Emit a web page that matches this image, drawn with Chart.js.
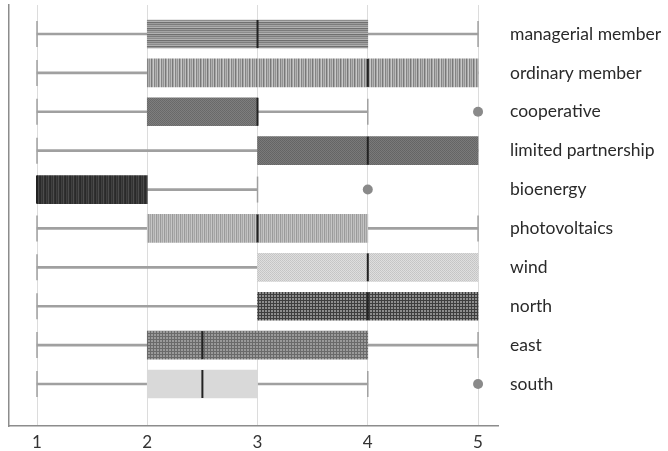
<!DOCTYPE html>
<html>
<head>
<meta charset="utf-8">
<script src="https://cdn.jsdelivr.net/npm/chart.js@4"></script>
<style>
  html, body { margin: 0; padding: 0; background: #fff; }
  #wrap { width: 668px; height: 451px; }
</style>
</head>
<body>
<div id="wrap"><canvas id="chart"></canvas></div>
<script>
// rows, top to bottom
var categories = ['managerial member', 'ordinary member', 'cooperative', 'limited partnership',
    'bioenergy', 'photovoltaics', 'wind', 'north', 'east', 'south'];
var whiskerLow  = [1, 1, 1, 1, 1, 1, 1, 1, 1,   1];
var q1          = [2, 2, 2, 3, 1, 2, 3, 3, 2,   2];
var median      = [3, 4, 3, 4, 1, 3, 4, 4, 2.5, 2.5];
var q3          = [4, 5, 3, 5, 2, 4, 5, 5, 4,   3];
var whiskerHigh = [5, 5, 4, 5, 3, 5, 5, 5, 5,   4];
var outlierRows   = [2, 4, 9];
var outlierValues = [5, 4, 5];
var xTicks = [1, 2, 3, 4, 5];

// little tiles so the boxes get a texture like the original
function makePattern(w, h, colors) {
    var c = document.createElement('canvas');
    c.width = w; c.height = h;
    var g = c.getContext('2d');
    for (var y = 0; y < h; y++) {
        for (var x = 0; x < w; x++) {
            g.fillStyle = colors[(y * w + x) % colors.length];
            g.fillRect(x, y, 1, 1);
        }
    }
    return g.createPattern(c, 'repeat');
}
function vStripes(cols) { return makePattern(cols.length, 1, cols); }
function hStripes(cols) { return makePattern(1, cols.length, cols); }
function grid(line, fill) {
    return makePattern(3, 3, [line, line, line, line, fill, fill, line, fill, fill]);
}

var boxFills = [
    hStripes(['#7c7c7c', '#a4a4a4', '#8c8c8c', '#b2b2b2', '#6f6f6f', '#9c9c9c']),
    vStripes(['#848484', '#b0b0b0', '#949494', '#bcbcbc', '#787878', '#a4a4a4', '#c8c8c8']),
    makePattern(2, 2, ['#686868', '#7e7e7e', '#7e7e7e', '#6a6a6a']),
    makePattern(2, 2, ['#646464', '#7a7a7a', '#7a7a7a', '#666666']),
    vStripes(['#2a2a2a', '#404040', '#333333', '#4c4c4c', '#303030']),
    vStripes(['#9a9a9a', '#bdbdbd', '#a6a6a6', '#c6c6c6']),
    makePattern(2, 2, ['#c4c4c4', '#dedede', '#dedede', '#c8c8c8']),
    grid('#3e3e3e', '#8e8e8e'),
    grid('#6a6a6a', '#9a9a9a'),
    '#d9d9d9'
];

var boxData = [], whiskerData = [], capData = [], medianData = [], outlierData = [];
for (var i = 0; i < categories.length; i++) {
    boxData.push({ x: [q1[i], q3[i]], y: i });
    whiskerData.push({ x: [whiskerLow[i], q1[i]], y: i });
    whiskerData.push({ x: [q3[i], whiskerHigh[i]], y: i });
    if (whiskerLow[i] < q1[i]) capData.push({ x: whiskerLow[i], y: i });
    if (whiskerHigh[i] > q3[i]) capData.push({ x: whiskerHigh[i], y: i });
    medianData.push({ x: median[i], y: i });
}
for (var k = 0; k < outlierRows.length; k++) {
    outlierData.push({ x: outlierValues[k], y: outlierRows[k] });
}

var yMin = -0.746, yMax = 10.08;
var rowTicks = categories.map(function(c, idx) { return { value: idx }; });

// layout is set by hand, so drop the room chart.js keeps for half labels
function noPad(axis) {
    axis.paddingTop = 0;
    axis.paddingBottom = 0;
    axis.paddingLeft = 0;
    axis.paddingRight = 0;
}

var ctx = document.getElementById('chart').getContext('2d');
var chart = new Chart(ctx, {
    data: {
        datasets: [{
            type: 'bar',
            indexAxis: 'y',
            data: whiskerData,
            backgroundColor: '#a0a0a0',
            barThickness: 2,
            grouped: false,
            order: 5
        }, {
            type: 'bar',
            indexAxis: 'y',
            data: boxData,
            backgroundColor: boxFills,
            borderWidth: 0,
            barThickness: 28,
            grouped: false,
            order: 4
        }, {
            type: 'scatter',
            data: capData,
            pointStyle: 'line',
            rotation: 90,
            radius: 13,
            borderWidth: 1.5,
            borderColor: '#a0a0a0',
            order: 3
        }, {
            type: 'scatter',
            data: medianData,
            pointStyle: 'line',
            rotation: 90,
            radius: 14,
            borderWidth: 2,
            borderColor: '#222222',
            order: 2
        }, {
            type: 'scatter',
            data: outlierData,
            pointStyle: 'circle',
            radius: 5,
            backgroundColor: '#8a8a8a',
            borderWidth: 0,
            order: 1
        }]
    },
    options: {
        responsive: true,
        maintainAspectRatio: false,
        animation: false,
        layout: { autoPadding: false, padding: { left: 9, top: 5, right: 0, bottom: 1 } },
        plugins: {
            legend: { display: false },
            tooltip: { enabled: false }
        },
        scales: {
            x: {
                type: 'linear',
                min: 0.746,
                max: 5.181,
                offset: false,
                afterBuildTicks: function(axis) {
                    axis.ticks = xTicks.map(function(v) { return { value: v }; });
                },
                afterFit: function(axis) { axis.height = 24; noPad(axis); },
                grid: { color: '#dcdcdc', lineWidth: 1, drawTicks: false, offset: false },
                border: { color: '#8c8c8c', width: 1.5 },
                ticks: {
                    padding: 6,
                    color: '#333333',
                    font: { family: 'Lato', size: 17 }
                }
            },
            y: {
                type: 'linear',
                position: 'left',
                reverse: true,
                min: yMin,
                max: yMax,
                offset: false,
                afterFit: function(axis) { axis.width = 0; noPad(axis); },
                grid: { display: false, drawTicks: false },
                border: { color: '#8c8c8c', width: 1.5 },
                ticks: { display: false }
            },
            y2: {
                type: 'linear',
                position: 'right',
                reverse: true,
                min: yMin,
                max: yMax,
                offset: false,
                afterBuildTicks: function(axis) { axis.ticks = rowTicks.slice(); },
                afterFit: function(axis) { axis.width = 170; noPad(axis); },
                grid: { display: false, drawTicks: true, tickLength: 12 },
                border: { display: false },
                ticks: {
                    padding: 0,
                    color: '#2a2a2a',
                    font: { family: 'Lato', size: 17.5, lineHeight: 0.5 },
                    callback: function(value) { return categories[value]; }
                }
            }
        }
    }
});
</script>
</body>
</html>
